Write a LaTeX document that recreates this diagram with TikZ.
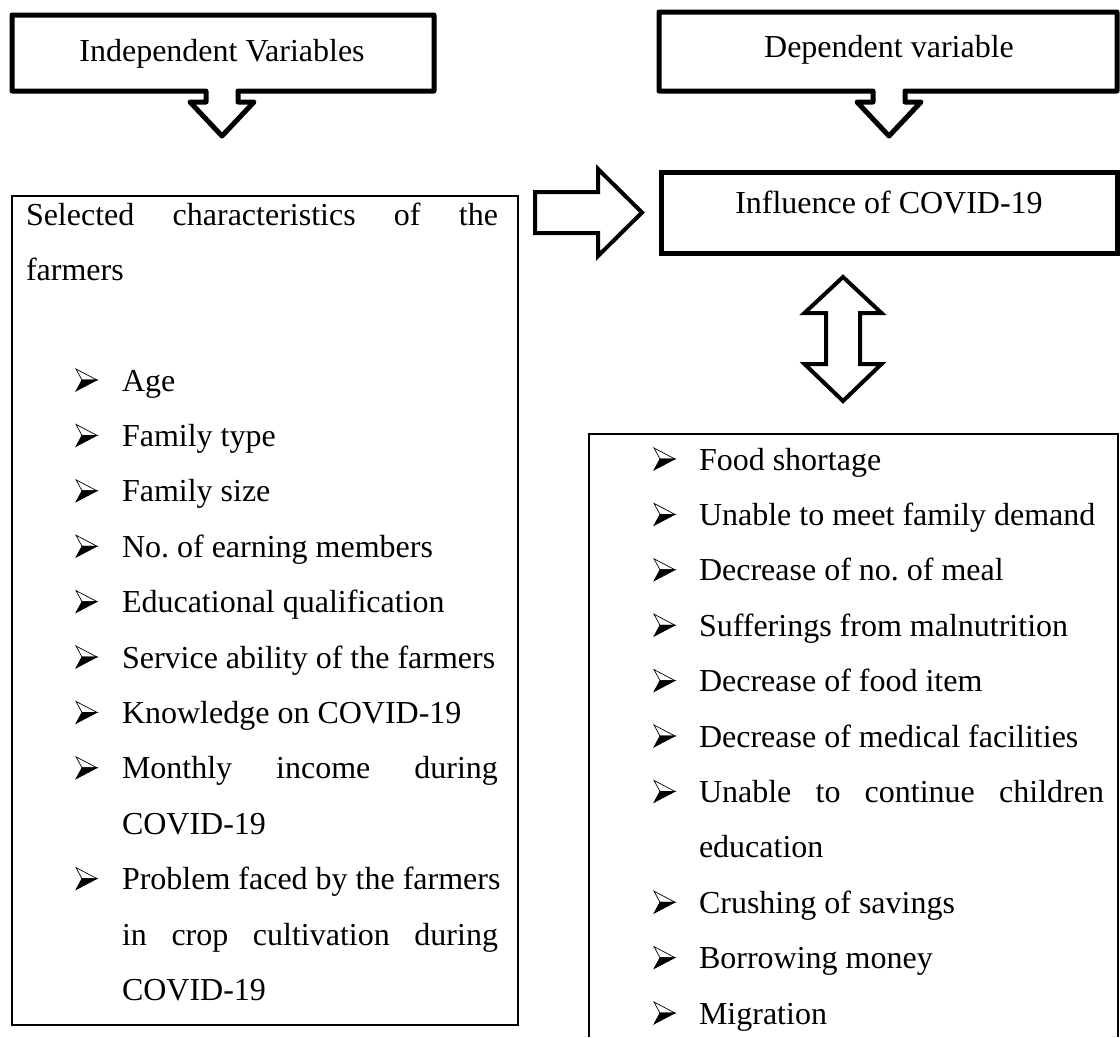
\documentclass[tikz,border=0pt]{standalone}
\usepackage{fontspec}
\setmainfont{Liberation Serif}
\usetikzlibrary{calc}
\frenchspacing
\newcommand\bulletitem[5]{%
  \coordinate (#1-b) at (#2,#4);
  \pic at (#1-b) {arrowbullet};
  \node[txt] (#1) at (#3,#4) {#5};}
\begin{document}
\begin{tikzpicture}[x=1pt,y=-1pt,
  every node/.style={inner sep=0pt,outer sep=0pt},
  txt/.style={anchor=base west,font=\fontsize{32}{40}\selectfont},
  ctr/.style={anchor=base,font=\fontsize{32}{40}\selectfont},
  callout/.style={draw,line width=5pt,line join=round},
  blockarrow/.style={draw,line width=4pt,line join=miter},
  thinbox/.style={draw,line width=2pt},
  pics/arrowbullet/.style={code={
    \filldraw[fill=white,line width=0.7pt,line join=miter] (0,-22) -- (21,-11) -- (6,-11) -- cycle;
    \filldraw[line width=0.7pt,line join=miter] (6,-11) -- (21,-11) -- (0,0) -- cycle;
  }}]
\useasboundingbox (0,0) rectangle (1120,1037);

% ---- top callouts
\coordinate (ivTL) at (12,15);
\coordinate (ivBR) at (434,91);
\draw[callout] (ivTL) -- (ivBR|-ivTL) -- (ivBR) -- (238,91) -- (238,102) -- (254,102)
  -- (222,136) -- (190,102) -- (206,102) -- (206,91) -- (ivTL|-ivBR) -- cycle;
\node[ctr] (iv) at (222,61) {Independent Variables};

\coordinate (dvTL) at (659,12);
\coordinate (dvBR) at (1117,91);
\draw[callout] (dvTL) -- (dvBR|-dvTL) -- (dvBR) -- (905,91) -- (905,102) -- (921,102)
  -- (889,136) -- (857,102) -- (873,102) -- (873,91) -- (dvTL|-dvBR) -- cycle;
\node[ctr] (dv) at (889,57) {Dependent variable};

% ---- influence box
\node[draw,line width=5pt,minimum width=456,minimum height=81,anchor=north west] (inf) at (661,172) {};
\node[ctr] (inftxt) at (889,213) {Influence of COVID-19};

% ---- right block arrow
\draw[blockarrow] (535,192) -- (598,192) -- (598,169) -- (642,212.5) -- (598,256)
  -- (598,233) -- (535,233) -- cycle;

% ---- double block arrow
\draw[blockarrow] (843,277) -- (881.5,313) -- (860,313) -- (860,364) -- (881.5,364)
  -- (843,401) -- (804.5,364) -- (826,364) -- (826,313) -- (804.5,313) -- cycle;

% ---- left box
\node[thinbox,minimum width=506,minimum height=829,anchor=north west] (lbox) at (12,196) {};
\node[txt] (sel) at (26,225) {\hbox to 472pt{Selected\hfill characteristics\hfill of\hfill the}};
\node[txt] (farm) at (26,280.4) {farmers};
\bulletitem{age}{76}{122}{391}{Age}
\bulletitem{ftype}{76}{122}{446.4}{Family type}
\bulletitem{fsize}{76}{122}{501.8}{Family size}
\bulletitem{earn}{76}{122}{557.2}{No.\ of earning members}
\bulletitem{edu}{76}{122}{612.6}{Educational qualification}
\bulletitem{serv}{76}{122}{668}{Service ability of the farmers}
\bulletitem{know}{76}{122}{723.4}{Knowledge on COVID-19}
\bulletitem{inc}{76}{122}{778.8}{\hbox to 376pt{Monthly\hfill income\hfill during}}
\node[txt] (inc2) at (122,834.2) {COVID-19};
\bulletitem{prob}{76}{122}{889.6}{Problem faced by the farmers}
\node[txt] (prob2) at (122,945) {\hbox to 376pt{in\hfill crop\hfill cultivation\hfill during}};
\node[txt] (prob3) at (122,1000.4) {COVID-19};

% ---- right box (open at the bottom)
\coordinate (rTL) at (589,434);
\coordinate (rTR) at (1118,434);
\draw[line width=2pt] (589,1037) -- (rTL) -- (rTR) -- (1118,1037);
\bulletitem{food}{654}{699}{470}{Food shortage}
\bulletitem{dem}{654}{699}{525.4}{Unable to meet family demand}
\bulletitem{meal}{654}{699}{580.8}{Decrease of no.\ of meal}
\bulletitem{mal}{654}{699}{636.2}{Sufferings from malnutrition}
\bulletitem{item}{654}{699}{691.6}{Decrease of food item}
\bulletitem{med}{654}{699}{747}{Decrease of medical facilities}
\bulletitem{child}{654}{699}{802.4}{\hbox to 405pt{Unable\hfill to\hfill continue\hfill children}}
\node[txt] (child2) at (699,857.8) {education};
\bulletitem{sav}{654}{699}{913.2}{Crushing of savings}
\bulletitem{borr}{654}{699}{968.6}{Borrowing money}
\bulletitem{mig}{654}{699}{1024}{Migration}
\end{tikzpicture}
\end{document}
